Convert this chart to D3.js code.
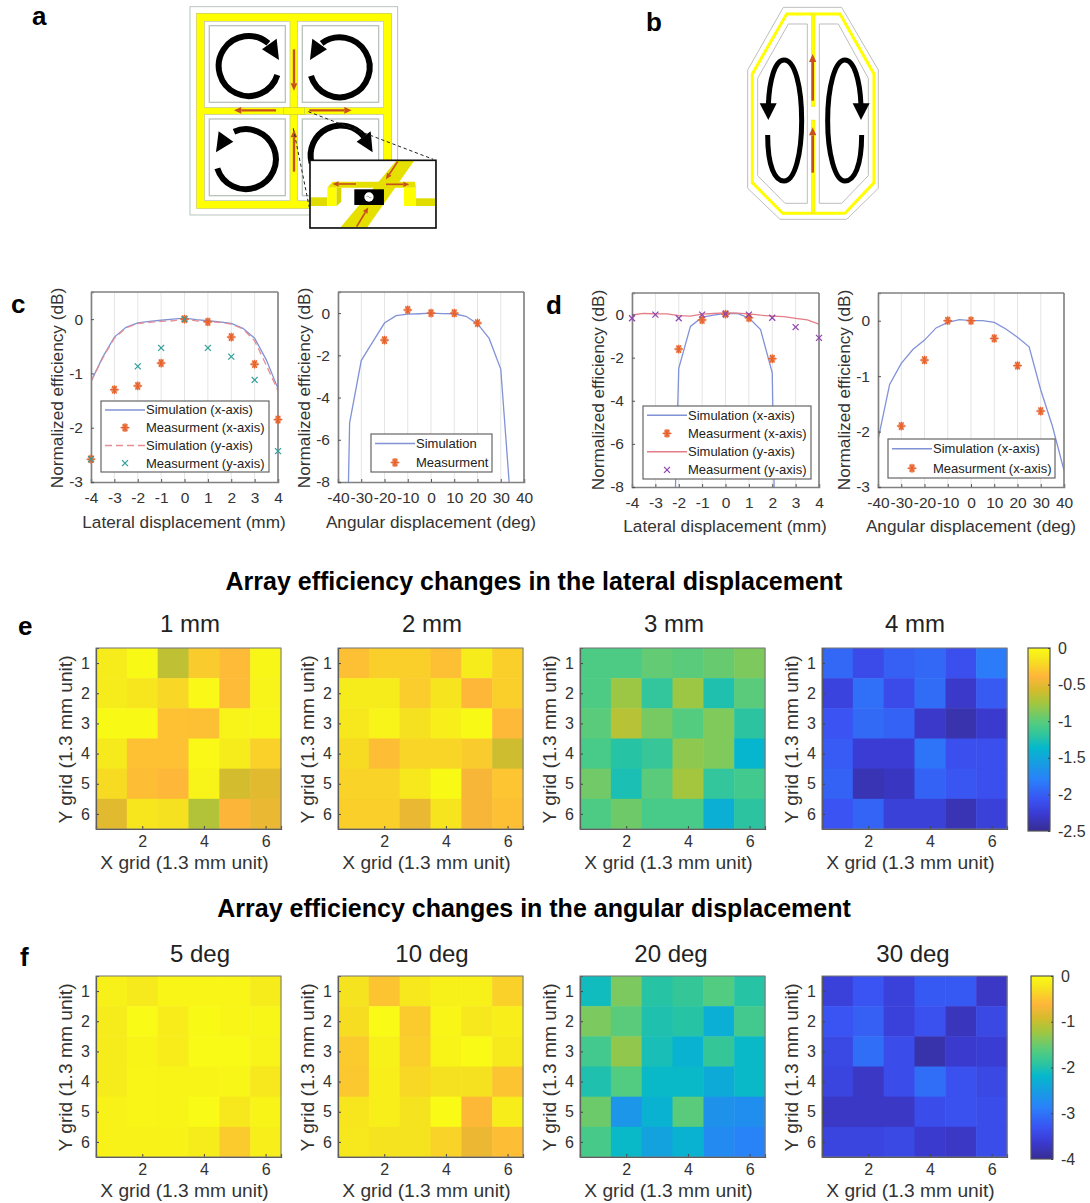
<!DOCTYPE html>
<html>
<head>
<meta charset="utf-8">
<script src="https://cdnjs.cloudflare.com/ajax/libs/d3/7.8.5/d3.min.js"></script>
<style>
body { margin: 0; background: white; }
text { font-family: "Liberation Sans", Arial, sans-serif; fill: #333; }
.panel { font-weight: bold; font-size: 26px; fill: black; }
.sect { font-weight: bold; font-size: 25px; fill: black; text-anchor: middle; }
.sub { font-size: 24px; fill: #222; text-anchor: middle; }
.lab { font-size: 17.2px; text-anchor: middle; }
.tick text { font-size: 15.5px; fill: #333; font-family: "Liberation Sans", Arial, sans-serif; }
.leg { font-size: 13px; fill: #222; }
</style>
</head>
<body>
<svg id="fig" width="1090" height="1203"></svg>
<script>
// ---- line chart data ----
var simCx = [-4,-3.5,-3,-2.5,-2,-1.5,-1,-0.5,0,0.5,1,1.5,2,2.5,3,3.5,4];
var simCxY = [-1.15,-0.7,-0.33,-0.15,-0.07,-0.04,-0.02,0,0.02,-0.01,-0.03,-0.05,-0.08,-0.17,-0.35,-0.75,-1.28];
var simCyY = [-1.15,-0.72,-0.35,-0.16,-0.08,-0.06,-0.04,-0.03,0,-0.03,-0.05,-0.06,-0.09,-0.18,-0.4,-0.85,-1.32];
var mCxX = [-4,-3,-2,-1,0,1,2,3,4];
var mCxY = [-2.58,-1.3,-1.23,-0.81,0,-0.05,-0.33,-0.83,-1.85];
var mCyX = [-4,-2,-1,0,1,2,3,4];
var mCyY = [-2.58,-0.87,-0.53,0,-0.53,-0.69,-1.12,-2.43];

var simCaX = [-35.5,-35,-30,-25,-20,-15,-10,-5,0,5,10,15,20,25,30,33.6];
var simCaY = [-8,-5.2,-2.25,-1.35,-0.47,-0.12,-0.05,-0.03,0,-0.02,-0.03,-0.15,-0.5,-1.2,-2.65,-8];
var mCaX = [-20,-10,0,10,20];
var mCaY = [-1.28,0.15,0,0,-0.47];

var simDxX = [-2.14,-2,-1.5,-1,-0.5,0,0.5,1,1.5,2,2.08];
var simDxY = [-8,-2.5,-0.55,-0.12,-0.03,0.05,0.05,-0.15,-0.7,-2.7,-8];
var simDyX = [-4,-3.5,-3,-2.5,-2,-1.5,-1,-0.5,0,0.5,1,1.5,2,2.5,3,3.5,4];
var simDyY = [-0.02,0.05,0.03,0.03,-0.05,-0.07,0.02,0.05,0.08,0.07,0.03,-0.03,-0.07,-0.1,-0.18,-0.25,-0.45];
var mDxX = [-2,-1,0,1,2];
var mDxY = [-1.6,-0.25,0.02,-0.15,-2.05];
var mDyX = [-4,-3,-2,-1,0,1,2,3,4];
var mDyY = [-0.17,0,-0.17,0,0.03,0,-0.15,-0.58,-1.08];

var simDaX = [-40,-35,-30,-25,-20,-15,-10,-5,0,5,10,15,20,25,30,35,40];
var simDaY = [-2.15,-1.15,-0.77,-0.52,-0.35,-0.13,-0.03,0.02,0,0,-0.03,-0.15,-0.3,-0.47,-1.25,-1.9,-2.7];
var mDaX = [-30,-20,-10,0,10,20,30];
var mDaY = [-1.9,-0.71,0,0,-0.32,-0.81,-1.63];

var mmTicks = [-4,-3,-2,-1,0,1,2,3,4];
var degTicks = [-40,-30,-20,-10,0,10,20,30,40];

// ---- heatmap data, rows top to bottom, in dB ----
var mm1 = [[-0.1,-0.01,-0.65,-0.28,-0.36,-0.03],[-0.1,-0.14,-0.22,-0.02,-0.36,-0.05],[-0.01,-0.01,-0.33,-0.34,-0.05,-0.03],[-0.11,-0.33,-0.33,-0.02,-0.1,-0.25],[-0.2,-0.35,-0.38,-0.05,-0.58,-0.52],[-0.52,-0.14,-0.17,-0.7,-0.4,-0.48]];
var mm2 = [[-0.34,-0.26,-0.26,-0.34,-0.1,-0.26],[-0.1,-0.1,-0.27,-0.15,-0.38,-0.26],[-0.13,-0.05,-0.17,-0.08,-0.01,-0.37],[-0.2,-0.35,-0.23,-0.23,-0.28,-0.6],[-0.24,-0.24,-0.13,-0.01,-0.42,-0.31],[-0.26,-0.26,-0.48,-0.15,-0.42,-0.34]];
var mm3 = [[-1.05,-1.05,-0.97,-1,-0.95,-0.88],[-1.05,-0.78,-1.17,-0.78,-1.25,-1],[-1,-0.68,-0.9,-1.02,-0.87,-1.2],[-1.07,-1.22,-1.15,-0.82,-0.87,-1.38],[-0.92,-1.27,-1,-0.75,-1.17,-1.1],[-1.05,-0.93,-1.07,-1.07,-1.43,-1.2]];
var mm4 = [[-1.95,-2.13,-2,-1.95,-2.1,-1.83],[-2.2,-1.9,-2.13,-1.92,-2.3,-2.03],[-2.07,-1.93,-1.98,-2.3,-2.4,-2.28],[-2.02,-2.26,-2.26,-1.87,-2.1,-2.1],[-1.98,-2.38,-2.33,-1.98,-2.05,-2.1],[-2.07,-1.97,-2.22,-2.22,-2.38,-2.22]];
var deg5 = [[-0.1,-0.18,-0.06,-0.06,-0.06,-0.16],[-0.16,-0.01,-0.14,-0.02,-0.06,-0.05],[-0.16,-0.07,-0.14,-0.01,-0.01,-0.08],[-0.16,-0.06,-0.07,-0.07,-0.05,-0.2],[-0.09,-0.06,-0.07,-0.01,-0.2,-0.07],[-0.09,-0.09,-0.09,-0.16,-0.45,-0.13]];
var deg10 = [[-0.25,-0.5,-0.2,-0.1,-0.1,-0.4],[-0.3,-0.01,-0.45,-0.06,-0.2,-0.12],[-0.45,-0.1,-0.42,-0.07,-0.01,-0.18],[-0.47,-0.12,-0.35,-0.27,-0.27,-0.5],[-0.23,-0.12,-0.25,-0.01,-0.6,-0.15],[-0.2,-0.25,-0.25,-0.38,-0.75,-0.55]];
var deg20 = [[-2.1,-1.42,-1.95,-1.85,-1.65,-1.95],[-1.42,-1.6,-2,-1.95,-2.3,-1.75],[-1.75,-1.3,-2.05,-2.25,-1.85,-2.15],[-2,-1.65,-2.15,-2.15,-2.35,-2.15],[-1.5,-2.6,-2.25,-1.6,-2.65,-2.7],[-1.72,-2.15,-2.45,-2.25,-2.75,-2.85]];
var deg30 = [[-3.55,-3.3,-3.55,-3.25,-3.25,-3.7],[-3.3,-3.2,-3.55,-3.35,-3.75,-3.45],[-3.45,-3.05,-3.4,-3.85,-3.65,-3.6],[-3.5,-3.7,-3.4,-3.05,-3.35,-3.45],[-3.7,-3.7,-3.7,-3.4,-3.35,-3.4],[-3.5,-3.5,-3.45,-3.65,-3.7,-3.4]];

var mmTickV = [0,-0.5,-1,-1.5,-2,-2.5];
var degTickV = [0,-1,-2,-3,-4];

// colormap
var cmapT = [0,0.02,0.09,0.17,0.28,0.455,0.52,0.59,0.70,0.77,0.845,0.93,1];
var cmapC = ["#352a9c","#38309f","#3a3ad0","#3a52f2","#2a80fa","#05b8cc","#2cc4a0","#52cc80","#a4c63e","#d4bc2c","#ffb53a","#f6e020","#f9fb15"];
var cmap = d3.scaleLinear().domain(cmapT).range(cmapC);

var svg = d3.select("#fig");
var BLUE = "#8192d6", ORANGE = "#e8622c", TEAL = "#2f9f98", PINK = "#e58f94", RED = "#e57c86", PURPLE = "#8e44ad", BOXC = "#808080";

// hyphen in the labels, as matlab prints them
function plain(d) { return String(d); }

// a star marker like the matlab "*" one, a few crossing strokes
function star(g, px, py, col) {
  g.append("circle").attr("cx", px).attr("cy", py).attr("r", 3.4).attr("fill", col).attr("opacity", 0.55);
  [0, 60, 120].forEach(function (a) {
    var dx = 4.4 * Math.cos(a * Math.PI / 180), dy = 4.4 * Math.sin(a * Math.PI / 180);
    g.append("line").attr("x1", px - dx).attr("x2", px + dx).attr("y1", py - dy).attr("y2", py + dy)
      .attr("stroke", col).attr("stroke-width", 1.3);
  });
  g.append("line").attr("x1", px).attr("x2", px).attr("y1", py - 4.4).attr("y2", py + 4.4).attr("stroke", col).attr("stroke-width", 1.3);
}
function cross(g, px, py, col) {
  [[1, 1], [1, -1]].forEach(function (s) {
    g.append("line").attr("x1", px - 3 * s[0]).attr("x2", px + 3 * s[0]).attr("y1", py - 3 * s[1]).attr("y2", py + 3 * s[1])
      .attr("stroke", col).attr("stroke-width", 1.2);
  });
}

var clipId = 0;
function lineChart(o) {
  var x = d3.scaleLinear().domain(o.xd).range([o.l, o.r]);
  var y = d3.scaleLinear().domain(o.yd).range([o.b, o.t]);
  var g = svg.append("g");

  // grid lines, vertical only
  g.selectAll(".gl").data(o.xt).enter().append("line")
    .attr("x1", x).attr("x2", x).attr("y1", o.t).attr("y2", o.b)
    .attr("stroke", "#e4e4e4").attr("stroke-width", 1);

  clipId++;
  svg.append("clipPath").attr("id", "cl" + clipId).append("rect")
    .attr("x", o.l).attr("y", o.t).attr("width", o.r - o.l).attr("height", o.b - o.t);
  var plot = g.append("g").attr("clip-path", "url(#cl" + clipId + ")");
  var line = d3.line().x(function (d) { return x(d[0]); }).y(function (d) { return y(d[1]); });

  o.lines.forEach(function (s) {
    plot.append("path").attr("d", line(d3.zip(s.x, s.y))).attr("fill", "none")
      .attr("stroke", s.c).attr("stroke-width", 1.3).attr("stroke-dasharray", s.dash || null);
  });

  var xAxis = g.append("g").attr("transform", "translate(0," + o.b + ")")
    .call(d3.axisBottom(x).tickValues(o.xt).tickSize(-3).tickPadding(10).tickFormat(plain));
  var yAxis = g.append("g").attr("transform", "translate(" + o.l + ",0)")
    .call(d3.axisLeft(y).tickValues(o.yt).tickSize(-3).tickPadding(8).tickFormat(plain));
  [xAxis, yAxis].forEach(function (a) {
    a.select(".domain").attr("stroke", BOXC).attr("stroke-width", 1.6);
    a.selectAll(".tick line").attr("stroke", "#555");
  });
  g.append("line").attr("x1", o.r).attr("x2", o.r).attr("y1", o.t).attr("y2", o.b).attr("stroke", BOXC).attr("stroke-width", 1.6);
  g.append("line").attr("x1", o.l).attr("x2", o.r).attr("y1", o.t).attr("y2", o.t).attr("stroke", BOXC).attr("stroke-width", 1.6);

  // legend sits over the lines, markers go on top of it
  var lg = o.legend;
  g.append("rect").attr("x", lg.x0).attr("y", lg.y0).attr("width", lg.x1 - lg.x0).attr("height", lg.y1 - lg.y0)
    .attr("fill", "white").attr("stroke", "#666").attr("stroke-width", 1.2);
  var rowH = (lg.y1 - lg.y0) / lg.items.length;
  lg.items.forEach(function (it, i) {
    var cy = lg.y0 + rowH * (i + 0.5);
    if (it.type == "line") {
      g.append("line").attr("x1", lg.x0 + 4).attr("x2", lg.x0 + lg.sw).attr("y1", cy).attr("y2", cy)
        .attr("stroke", it.c).attr("stroke-width", 1.5).attr("stroke-dasharray", it.dash || null);
    } else if (it.type == "star") {
      star(g, lg.x0 + (4 + lg.sw) / 2, cy, it.c);
    } else {
      cross(g, lg.x0 + (4 + lg.sw) / 2, cy, it.c);
    }
    g.append("text").attr("class", "leg").attr("x", lg.x0 + lg.sw + 1).attr("y", cy + 4.5).text(it.t);
  });

  o.points.forEach(function (s) {
    d3.zip(s.x, s.y).forEach(function (d) {
      (s.type == "star" ? star : cross)(g, x(d[0]), y(d[1]), s.c);
    });
  });

  g.append("text").attr("class", "lab").attr("x", o.xl[0]).attr("y", o.xl[1]).text(o.xlabel);
  g.append("text").attr("class", "lab")
    .attr("transform", "translate(" + o.yl[0] + "," + o.yl[1] + ") rotate(-90)").text("Normalized efficiency (dB)");
}

lineChart({
  l: 91, r: 278, t: 292, b: 482, xd: [-4, 4], yd: [-3, 0.5], xt: mmTicks, yt: [-3, -2, -1, 0],
  xlabel: "Lateral displacement (mm)", xl: [184, 528], yl: [63, 388],
  lines: [{ x: simCx, y: simCxY, c: BLUE }, { x: simCx, y: simCyY, c: PINK, dash: "7,4" }],
  points: [{ x: mCxX, y: mCxY, c: ORANGE, type: "star" }, { x: mCyX, y: mCyY, c: TEAL, type: "cross" }],
  legend: { x0: 101, x1: 269, y0: 401, y1: 472, sw: 44, items: [
    { type: "line", c: BLUE, t: "Simulation (x-axis)" },
    { type: "star", c: ORANGE, t: "Measurment (x-axis)" },
    { type: "line", c: PINK, dash: "7,4", t: "Simulation (y-axis)" },
    { type: "cross", c: TEAL, t: "Measurment (y-axis)" }] }
});
lineChart({
  l: 338, r: 524, t: 292, b: 482, xd: [-40, 40], yd: [-8, 1], xt: degTicks, yt: [-8, -6, -4, -2, 0],
  xlabel: "Angular displacement (deg)", xl: [431, 528], yl: [310, 388],
  lines: [{ x: simCaX, y: simCaY, c: BLUE }],
  points: [{ x: mCaX, y: mCaY, c: ORANGE, type: "star" }],
  legend: { x0: 371, x1: 492, y0: 434, y1: 472, sw: 44, items: [
    { type: "line", c: BLUE, t: "Simulation" },
    { type: "star", c: ORANGE, t: "Measurment" }] }
});
lineChart({
  l: 632, r: 819, t: 293, b: 487, xd: [-4, 4], yd: [-8, 1], xt: mmTicks, yt: [-8, -6, -4, -2, 0],
  xlabel: "Lateral displacement (mm)", xl: [725, 532], yl: [604, 390],
  lines: [{ x: simDxX, y: simDxY, c: BLUE }, { x: simDyX, y: simDyY, c: RED }],
  points: [{ x: mDxX, y: mDxY, c: ORANGE, type: "star" }, { x: mDyX, y: mDyY, c: PURPLE, type: "cross" }],
  legend: { x0: 643, x1: 811, y0: 406, y1: 479, sw: 44, items: [
    { type: "line", c: BLUE, t: "Simulation (x-axis)" },
    { type: "star", c: ORANGE, t: "Measurment (x-axis)" },
    { type: "line", c: RED, t: "Simulation (y-axis)" },
    { type: "cross", c: PURPLE, t: "Measurment (y-axis)" }] }
});
lineChart({
  l: 878, r: 1064, t: 293, b: 487, xd: [-40, 40], yd: [-3, 0.5], xt: degTicks, yt: [-3, -2, -1, 0],
  xlabel: "Angular displacement (deg)", xl: [971, 532], yl: [850, 390],
  lines: [{ x: simDaX, y: simDaY, c: BLUE }],
  points: [{ x: mDaX, y: mDaY, c: ORANGE, type: "star" }],
  legend: { x0: 888, x1: 1055, y0: 439, y1: 478, sw: 44, items: [
    { type: "line", c: BLUE, t: "Simulation (x-axis)" },
    { type: "star", c: ORANGE, t: "Measurment (x-axis)" }] }
});

// ---- heatmaps ----
function heat(vals, l, t, title, titleX, vmin, titleY) {
  var size = 185, h = 181;
  var x = d3.scaleLinear().domain([0.5, 6.5]).range([l, l + size]);
  var y = d3.scaleLinear().domain([0.5, 6.5]).range([t, t + h]);
  var color = function (v) { return cmap(1 - v / vmin); };
  var g = svg.append("g");
  vals.forEach(function (row, r) {
    row.forEach(function (v, c) {
      g.append("rect").attr("x", x(c + 0.5)).attr("y", y(r + 0.5))
        .attr("width", x(c + 1.5) - x(c + 0.5) + 0.5).attr("height", y(r + 1.5) - y(r + 0.5) + 0.5)
        .attr("fill", color(v));
    });
  });
  var xa = g.append("g").attr("transform", "translate(0," + (t + h) + ")")
    .call(d3.axisBottom(x).tickValues([2, 4, 6]).tickSize(-3).tickPadding(7).tickFormat(plain));
  var ya = g.append("g").attr("transform", "translate(" + l + ",0)")
    .call(d3.axisLeft(y).tickValues([1, 2, 3, 4, 5, 6]).tickSize(-3).tickPadding(6).tickFormat(plain));
  [xa, ya].forEach(function (a) {
    a.select(".domain").attr("stroke", "#444").attr("stroke-width", 1.2);
    a.selectAll(".tick line").attr("stroke", "#444");
    a.selectAll(".tick text").style("font-size", "16px");
  });
  g.append("rect").attr("x", l).attr("y", t).attr("width", size).attr("height", h)
    .attr("fill", "none").attr("stroke", "#777").attr("stroke-width", 1);
  g.append("text").attr("class", "lab").style("font-size", "19.2px")
    .attr("x", l + size / 2 - 4).attr("y", t + h + 40).text("X grid (1.3 mm unit)");
  g.append("text").attr("class", "lab").style("font-size", "19.2px")
    .attr("transform", "translate(" + (l - 24) + "," + (t + h / 2 + 1) + ") rotate(-90)").text("Y grid (1.3 mm unit)");
  g.append("text").attr("class", "sub").attr("x", titleX).attr("y", titleY).text(title);
}

heat(mm1, 96, 648, "1 mm", 190, -2.5, 632);
heat(mm2, 338, 648, "2 mm", 432, -2.5, 632);
heat(mm3, 580, 648, "3 mm", 674, -2.5, 632);
heat(mm4, 822, 648, "4 mm", 915, -2.5, 632);
heat(deg5, 96, 976, "5 deg", 200, -4, 962);
heat(deg10, 338, 976, "10 deg", 432, -4, 962);
heat(deg20, 580, 976, "20 deg", 671, -4, 962);
heat(deg30, 822, 976, "30 deg", 913, -4, 962);

// ---- colorbars ----
var defs = svg.append("defs");
var grad = defs.append("linearGradient").attr("id", "cbar").attr("x1", 0).attr("x2", 0).attr("y1", 1).attr("y2", 0);
cmapT.forEach(function (t, i) {
  grad.append("stop").attr("offset", t).attr("stop-color", cmapC[i]);
});
function colorbar(l, t, b, vmin, ticks) {
  var y = d3.scaleLinear().domain([vmin, 0]).range([b, t]);
  svg.append("rect").attr("x", l).attr("y", t).attr("width", 22).attr("height", b - t)
    .attr("fill", "url(#cbar)").attr("stroke", "#555").attr("stroke-width", 1.2);
  var a = svg.append("g").attr("transform", "translate(" + (l + 22) + ",0)")
    .call(d3.axisRight(y).tickValues(ticks).tickSize(-2).tickPadding(8).tickFormat(plain));
  a.select(".domain").remove();
  a.selectAll(".tick line").attr("stroke", "#444");
  a.selectAll(".tick text").style("font-size", "16px");
}
colorbar(1028, 648, 831, -2.5, mmTickV);
colorbar(1031, 976, 1159, -4, degTickV);

// ---- headings and panel letters ----
svg.append("text").attr("class", "sect").attr("x", 534).attr("y", 590).text("Array efficiency changes in the lateral displacement");
svg.append("text").attr("class", "sect").attr("x", 534).attr("y", 917).text("Array efficiency changes in the angular displacement");
[["a", 32, 25], ["b", 646, 31], ["c", 11, 313], ["d", 546, 314], ["e", 18, 635], ["f", 20, 966]].forEach(function (p) {
  svg.append("text").attr("class", "panel").attr("x", p[1]).attr("y", p[2]).text(p[0]);
});

// ---- schematic a, drawn in 3x coordinates ----
var BR = "#c8501e", YEL = "#ffff00", GR = "#b9c4bc";
function arrow(g, x1, y1, x2, y2, w, hl, hw) {
  var a = Math.atan2(y2 - y1, x2 - x1), ux = Math.cos(a), uy = Math.sin(a);
  var bx = x2 - ux * hl, by = y2 - uy * hl;
  g.append("line").attr("x1", x1).attr("y1", y1).attr("x2", bx).attr("y2", by).attr("stroke", BR).attr("stroke-width", w);
  g.append("polygon").attr("fill", BR).attr("points",
    [[x2, y2], [bx - uy * hw, by + ux * hw], [bx + uy * hw, by - ux * hw]].join(" "));
}
function poly(g, pts, fill, stroke, w) {
  return g.append("polygon").attr("points", pts.join(" ")).attr("fill", fill)
    .attr("stroke", stroke || "none").attr("stroke-width", w || 0);
}
function box(g, x0, y0, x1, y1, fill, stroke, w) {
  return g.append("rect").attr("x", x0).attr("y", y0).attr("width", x1 - x0).attr("height", y1 - y0)
    .attr("fill", fill).attr("stroke", stroke || "none").attr("stroke-width", w || 0);
}
var sa = svg.append("g").attr("transform", "translate(170,0) scale(0.3333)");
box(sa, 60, 20, 683, 645, "white", GR, 3);
box(sa, 80, 40, 665, 625, YEL, "#c8c850", 2);
[[104, 64, 360, 322], [383, 64, 640, 322], [104, 344, 360, 602], [383, 344, 640, 602]].forEach(function (r) {
  box(sa, r[0], r[1], r[2], r[3], "white", GR, 2);
  box(sa, r[0] + 14, r[1] + 13, r[2] - 14, r[3] - 15, "white", GR, 4);
});
box(sa, 340, 322, 404, 344, YEL, "#c8c850", 2);
["M 322 225 A 90 90 0 1 1 295 130", "M 423 228 A 90 90 0 1 0 455 130",
 "M 142 505 A 90 90 0 1 0 192 395", "M 425 490 A 90 90 0 0 1 582 410"].forEach(function (d) {
  sa.append("path").attr("d", d).attr("fill", "none").attr("stroke", "black").attr("stroke-width", 18);
});
poly(sa, [[327, 180], [276, 148], [320, 116]], "black");
poly(sa, [[420, 180], [471, 148], [427, 116]], "black");
poly(sa, [[138, 457], [190, 425], [146, 394]], "black");
poly(sa, [[608, 457], [560, 425], [602, 394]], "black");
arrow(sa, 372, 148, 372, 272, 7, 22, 10);
arrow(sa, 318, 331, 192, 331, 7, 22, 10);
arrow(sa, 418, 331, 545, 331, 7, 22, 10);
arrow(sa, 372, 515, 372, 390, 7, 22, 10);
// inset
sa.append("line").attr("x1", 370).attr("y1", 385).attr("x2", 418).attr("y2", 622).attr("stroke", "#222").attr("stroke-width", 3).attr("stroke-dasharray", "10,8");
sa.append("line").attr("x1", 415).attr("y1", 335).attr("x2", 790).attr("y2", 478).attr("stroke", "#222").attr("stroke-width", 3).attr("stroke-dasharray", "10,8");
box(sa, 420, 481, 798, 684, "white");
poly(sa, [[512, 682], [592, 682], [732, 483], [678, 483]], "#e6e000");
box(sa, 420, 592, 472, 618, "#e0dc00");
box(sa, 738, 595, 795, 618, "#e0dc00");
poly(sa, [[488, 545], [735, 545], [738, 563], [472, 563]], "#e6e000");
box(sa, 472, 563, 500, 618, YEL);
poly(sa, [[500, 563], [514, 563], [514, 605], [500, 618]], "#d8d400");
box(sa, 702, 563, 738, 618, YEL);
box(sa, 553, 568, 642, 615, "black");
sa.append("circle").attr("cx", 597).attr("cy", 591).attr("r", 14).attr("fill", "white");
sa.append("path").attr("d", "M 590 591 q 3 -7 7 0 t 7 0").attr("fill", "none").attr("stroke", "#777").attr("stroke-width", 2);
arrow(sa, 558, 552, 488, 552, 5, 18, 8);
arrow(sa, 648, 553, 718, 553, 5, 18, 8);
arrow(sa, 683, 485, 648, 538, 5, 18, 8);
arrow(sa, 560, 680, 595, 622, 5, 18, 8);
box(sa, 420, 481, 798, 684, "none", "#111", 5);

// ---- schematic b ----
var sb = svg.append("g").attr("transform", "translate(720,0) scale(0.3333)");
var GB = "#bdbdbd";
poly(sb, [[190, 22], [365, 22], [475, 210], [475, 565], [380, 658], [180, 658], [83, 565], [83, 210]], "white", GB, 3);
poly(sb, [[200, 42], [360, 42], [462, 222], [462, 548], [375, 640], [188, 640], [97, 548], [97, 222]], "white", YEL, 9);
poly(sb, [[205, 72], [262, 72], [262, 610], [195, 610], [113, 527], [113, 235]], "white", GB, 3);
poly(sb, [[298, 72], [355, 72], [445, 235], [445, 527], [365, 610], [298, 610]], "white", GB, 3);
box(sb, 274, 42, 285, 320, YEL, "#cfcf60", 1);
box(sb, 274, 360, 285, 640, YEL, "#cfcf60", 1);
arrow(sb, 278, 302, 278, 162, 8, 24, 11);
arrow(sb, 278, 518, 278, 382, 8, 24, 11);
sb.append("path").attr("d", "M 143 405 C 143 500 165 543 192 543 C 225 543 245 460 245 362 C 245 260 225 180 192 180 C 165 180 148 240 145 315")
  .attr("fill", "none").attr("stroke", "black").attr("stroke-width", 15);
sb.append("path").attr("d", "M 425 405 C 425 500 402 543 375 543 C 345 543 323 460 323 362 C 323 260 345 180 375 180 C 402 180 420 240 423 315")
  .attr("fill", "none").attr("stroke", "black").attr("stroke-width", 15);
poly(sb, [[119, 310], [170, 310], [145, 360]], "black");
poly(sb, [[398, 310], [449, 310], [423, 360]], "black");
</script>
</body>
</html>
